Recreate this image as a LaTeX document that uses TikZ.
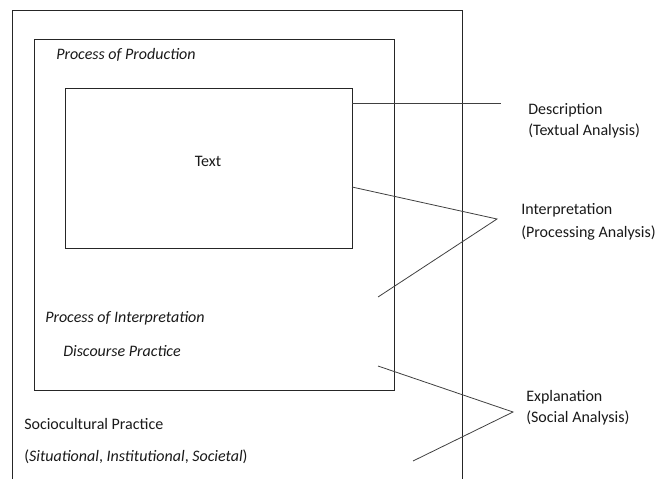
\documentclass[tikz,border=0pt]{standalone}
\usepackage{fontspec}
\setmainfont{Carlito}
\usetikzlibrary{positioning}

\tikzset{
  frame/.style={draw=black!85, line width=0.7pt},
  lbl/.style={anchor=west, inner sep=0pt, text=black!90, font=\fontsize{12}{14}\selectfont},
  cue/.style={draw=black!75, line width=0.6pt},
}

\begin{document}
\begin{tikzpicture}[x=0.75pt,y=-0.75pt]
	\useasboundingbox (0,0) rectangle (657,479);
	% outer frame, open at the bottom
	\draw[frame] (12,479) -- (12,10) -- (462,10) -- (462,479);
	\node[frame, inner sep=0pt, minimum width=270pt, minimum height=263.25pt] (practice) at (214,214.5) {};
	\node[frame, inner sep=0pt, minimum width=215.25pt, minimum height=120pt] (textbox) at (208.5,168) {};
	\node[lbl, anchor=center] (txt) at (208,161) {Text};
	
	\node[lbl] (prod) at (56,55) {\textit{Process of Production}};
	\node[lbl] (interp) at (45,318) {\textit{Process of Interpretation}};
	\node[lbl] (disc) at (63,351) {\textit{Discourse Practice}};
	\node[lbl] (socio) at (24,424) {Sociocultural Practice};
	\node[lbl] (sit) at (24,457) {(\textit{Situational}, \textit{Institutional}, \textit{Societal})};
	
	\node[lbl] (descr) at (528,110) {Description};
	\node[lbl] (descr2) at (528,131) {(Textual Analysis)};
	\node[lbl] (inter) at (521,210) {Interpretation};
	\node[lbl] (inter2) at (521,233) {(Processing Analysis)};
	\node[lbl] (expl) at (526,397) {Explanation};
	\node[lbl] (expl2) at (526,418) {(Social Analysis)};
	
	\coordinate (d1) at (352,103);
	\coordinate (d2) at (501,103);
	\coordinate (i1) at (352,187);
	\coordinate (i2) at (497,219);
	\coordinate (i3) at (378,297);
	\coordinate (e1) at (378,366);
	\coordinate (e2) at (513,412);
	\coordinate (e3) at (413,461);
	
	\draw[cue] (d1) -- (d2);
	\draw[cue] (i1) -- (i2) -- (i3);
	\draw[cue] (e1) -- (e2) -- (e3);
\end{tikzpicture}
\end{document}
